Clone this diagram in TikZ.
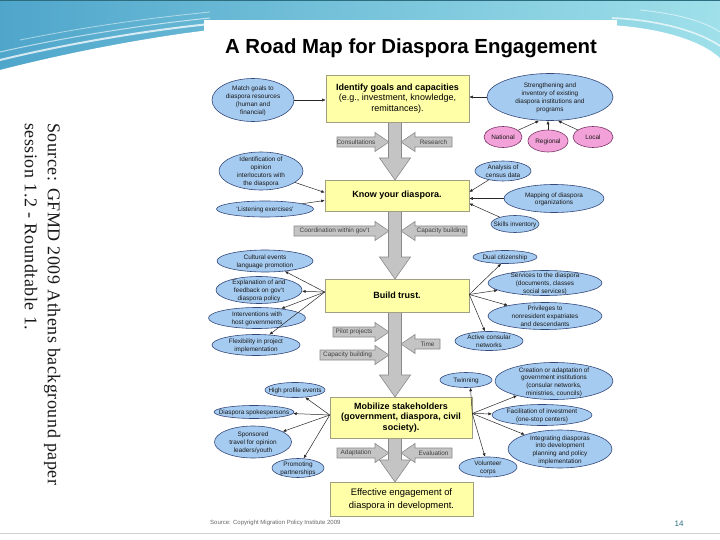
\documentclass[tikz,border=0pt]{standalone}
\usepackage{fontspec}
\setmainfont{Liberation Sans}
\newfontfamily\serifsrc[LetterSpace=3]{Liberation Serif}
\usetikzlibrary{shapes.geometric,arrows.meta,calc}
\definecolor{boxfill}{HTML}{FFFFA8}
\definecolor{boxdraw}{HTML}{A0A080}
\definecolor{ellfill}{HTML}{A6CBF0}
\definecolor{elldraw}{HTML}{34497A}
\definecolor{pinkfill}{HTML}{F2A2D8}
\definecolor{pinkdraw}{HTML}{7A3466}
\definecolor{gafill}{HTML}{C4C4C4}
\definecolor{gadraw}{HTML}{8A8A8A}
\definecolor{bandA}{HTML}{4FA6CB}
\definecolor{bandB}{HTML}{9FE0EA}
\definecolor{pagenum}{HTML}{2C6E80}
\newcommand{\ctext}[1]{\smash{\makebox[0pt]{\raisebox{-2.4pt}{\setbox\strutbox\hbox{\vrule height 5.5pt depth 2.2pt width 0pt}\def\arraystretch{1}\begin{tabular}{@{}c@{}}#1\end{tabular}}}}}
\newcommand{\garrow}[5]{%
  \pgfmathsetmacro{\gd}{(#3>#2) ? 1 : -1}%
  \pgfmathsetmacro{\gh}{#3-\gd*14}%
  \filldraw[fill=gafill, draw=gadraw, line width=0.6pt] (#2,#4-5) -- (\gh,#4-5) -- (\gh,#4-9.5) -- (#3,#4) -- (\gh,#4+9.5) -- (\gh,#4+5) -- (#2,#4+5) -- cycle;
  \node[glabel] (#1) at ({(#2+\gh)/2},#4) {#5};
}
\newcommand{\varrow}[3]{%
  \filldraw[fill=gafill, draw=gadraw, line width=0.6pt] (#1-6.5,#2) -- (#1-6.5,#3-22) -- (#1-15.5,#3-22) -- (#1,#3) -- (#1+15.5,#3-22) -- (#1+6.5,#3-22) -- (#1+6.5,#2) -- cycle;}
\tikzset{
  es/.style 2 args={minimum width=#1pt, minimum height=#2pt},
  ell/.style={ellipse, draw=elldraw, fill=ellfill, line width=0.6pt, inner sep=0pt, font=\fontsize{6.4}{7.7}\selectfont, text=black!90},
  pk/.style={ellipse, draw=pinkdraw, fill=pinkfill, line width=0.6pt, inner sep=0pt, font=\fontsize{6.4}{7.7}\selectfont, text=black!90},
  ybox/.style={rectangle, draw=boxdraw, fill=boxfill, line width=0.6pt, inner sep=0pt, align=center, font=\fontsize{9}{10.8}\selectfont},
  conn/.style={draw=black!85, line width=0.5pt, -{Latex[length=3.5pt,width=3pt]}},
  glabel/.style={font=\fontsize{6.4}{7}\selectfont, text=black!75, inner sep=0pt}
}
\begin{document}
\begin{tikzpicture}[x=1pt,y=-1pt]
\useasboundingbox (0,0) rectangle (720,540);
% background
\fill[white] (0,0) rectangle (720,540);
\shade[left color=bandA, right color=bandB] (0,0) rectangle (720,82);
\fill[white] (0,540) -- (0,70) .. controls (70,52) and (150,37) .. (210,30) -- (610,25) .. controls (660,28) and (700,40) .. (720,58) -- (720,540) -- cycle;
\draw[white, line width=2pt, opacity=.75] (0,60) .. controls (70,43) and (150,30) .. (210,24);
\draw[white, line width=1pt, opacity=.6] (0,52) .. controls (70,36) and (150,24) .. (210,18);
\draw[white, line width=.8pt, opacity=.5] (20,40) .. controls (90,26) and (150,18) .. (210,12);
\draw[white, line width=1.6pt, opacity=.7] (612,18) .. controls (660,20) and (700,32) .. (720,46);
\draw[white, line width=.8pt, opacity=.6] (640,10) .. controls (680,14) and (705,22) .. (720,32);
\draw[pagenum, line width=1.2pt] (0,0.6) -- (720,0.6);
\draw[black!18, line width=0.8pt] (0,533) -- (720,533);
\fill[white] (204,20) rectangle (617,531);
% side source text
\node[rotate=-90, anchor=north west, align=left, inner sep=0pt, font=\serifsrc\fontsize{18}{23}\selectfont, text=black!90] (side) at (60.5,123) {Source: GFMD 2009 Athens background paper\\session 1.2 -  Roundtable 1.};
\node[font=\fontsize{8}{9}\selectfont, text=pagenum] (pg) at (679,524) {14};
% title
\node[font=\fontsize{20.4}{24}\selectfont\bfseries, anchor=base] (title) at (411,54) {A Road Map for Diaspora Engagement};
% central arrows
\varrow{395}{121}{180}
\varrow{395}{210}{279}
\varrow{395}{311}{397}
\varrow{395}{437}{482}
% side gray arrows
\garrow{consult}{337}{389}{142}{Consultations}
\garrow{research}{452}{401}{142}{Research}
\garrow{coord}{294}{389}{231}{Coordination within gov't}
\garrow{capbA}{467}{401}{231}{Capacity building}
\garrow{pilot}{333}{389}{332}{Pilot projects}
\garrow{capbB}{320}{389}{355}{Capacity building}
\garrow{time}{440}{401}{344}{Time}
\garrow{adapt}{337}{389}{453}{Adaptation}
\garrow{eval}{452}{401}{453}{Evaluation}
% boxes
\node[ybox, es={143}{47}] (b1) at (397.5,98.5) {{\bfseries Identify goals and capacities}\\(e.g., investment, knowledge,\\remittances).};
\node[ybox, es={144}{31}, font=\fontsize{9}{10.8}\selectfont\bfseries] (b2) at (397,195.5) {Know your diaspora.};
\node[ybox, es={144}{33}, font=\fontsize{9}{10.8}\selectfont\bfseries] (b3) at (397,295.5) {Build trust.};
\node[ybox, es={142}{41}, font=\fontsize{9}{10.8}\selectfont\bfseries] (b4) at (401,417.5) {Mobilize stakeholders\\(government, diaspora, civil\\society).};
\node[ybox, es={143}{34}, font=\fontsize{9.4}{12.5}\selectfont] (b5) at (401.5,499.5) {Effective engagement of\\diaspora in development.};
% ellipses
\node[ell, es={82}{43}] (e_match) at (253,100) {\ctext{Match goals to\\diaspora resources\\(human and\\financial)}};
\node[ell, es={126}{47}] (e_str) at (550,97) {\ctext{Strengthening and\\inventory of existing\\diaspora institutions and\\programs}};
\node[pk, es={38}{21}] (e_nat) at (503,137) {\ctext{National}};
\node[pk, es={40}{22}] (e_reg) at (548,141) {\ctext{Regional}};
\node[pk, es={40}{21}] (e_loc) at (593,137) {\ctext{Local}};
\node[ell, es={84}{38}] (e_ident) at (261,171) {\ctext{Identification of\\opinion\\interlocutors with\\the diaspora}};
\node[ell, es={97}{16}] (e_listen) at (265,209) {\ctext{`Listening exercises'}};
\node[ell, es={56}{20}] (e_census) at (503,171) {\ctext{Analysis of\\census data}};
\node[ell, es={100}{28}] (e_map) at (554,198.5) {\ctext{Mapping of diaspora\\organizations}};
\node[ell, es={48}{17}] (e_skills) at (515,224) {\ctext{Skills inventory}};
\node[ell, es={96}{22}] (e_cult) at (265,261) {\ctext{Cultural events\\language promotion}};
\node[ell, es={86}{27}] (e_expl) at (259,290) {\ctext{Explanation of and\\feedback on gov't\\diaspora policy}};
\node[ell, es={97}{21}] (e_interv) at (257,318) {\ctext{Interventions with\\host governments}};
\node[ell, es={88}{21}] (e_flex) at (256,345) {\ctext{Flexibility in project\\implementation}};
\node[ell, es={64}{13}] (e_dual) at (505,257) {\ctext{Dual citizenship}};
\node[ell, es={114}{25}] (e_serv) at (545,283) {\ctext{Services to the diaspora\\(documents, classes\\social services)}};
\node[ell, es={114}{27}] (e_priv) at (545,316) {\ctext{Privileges to\\nonresident expatriates\\and descendants}};
\node[ell, es={68}{19}] (e_consul) at (489,341) {\ctext{Active consular\\networks}};
\node[ell, es={60}{15}] (e_high) at (295,390) {\ctext{High profile events}};
\node[ell, es={80}{13}] (e_spokes) at (254,412) {\ctext{Diaspora spokespersons}};
\node[ell, es={77}{32}] (e_spons) at (253,442) {\ctext{Sponsored\\travel for opinion\\leaders/youth}};
\node[ell, es={52}{19}] (e_promo) at (298,468) {\ctext{Promoting\\partnerships}};
\node[ell, es={52}{15}] (e_twin) at (466,380) {\ctext{Twinning}};
\node[ell, es={118}{37}] (e_creat) at (554,381) {\ctext{Creation or adaptation of\\government institutions\\(consular networks,\\ministries, councils)}};
\node[ell, es={100}{21}] (e_facil) at (542,415) {\ctext{Facilitation of investment\\(one-stop centers)}};
\node[ell, es={104}{38}] (e_integ) at (560,449) {\ctext{Integrating diasporas\\into development\\planning and policy\\implementation}};
\node[ell, es={58}{20}] (e_volun) at (488,467) {\ctext{Volunteer\\corps}};
% connectors
\draw[conn] (e_match.east) -- (b1.west |- e_match.east);
\draw[conn] (e_str.west) -- (b1.east |- e_str.west);
\draw[conn] (e_nat) -- ([xshift=-11pt]e_str.south);
\draw[conn] (e_reg.north) -- (e_reg.north |- e_str.south);
\draw[conn] (e_loc) -- ([xshift=8pt]e_str.south);
\draw[conn] (e_ident) -- ([yshift=3pt]b2.west);
\draw[conn] (e_listen) -- ([yshift=-5pt]b2.west);
\draw[conn] (e_census) -- ([yshift=3.5pt]b2.east);
\draw[conn] (e_map.west) -- (b2.east |- e_map.west);
\draw[conn] (e_skills) -- ([yshift=-8pt]b2.east);
\coordinate (b3l) at ([yshift=3.5pt]b3.west);
\coordinate (b3r) at ([yshift=1pt]b3.east);
\draw[conn] (b3l) -- (e_cult);
\draw[conn] (b3l) -- (e_expl);
\draw[conn] (b3l) -- (e_interv);
\draw[conn] (b3l) -- (e_flex);
\draw[conn] (b3r) -- (e_dual.-120);
\draw[conn] (b3r) -- (e_serv);
\draw[conn] (b3r) -- (e_priv);
\draw[conn] (b3r) -- (e_consul);
\coordinate (b4l) at ([yshift=2.5pt]b4.west);
\coordinate (b4r) at ([yshift=4pt]b4.east);
\draw[conn] (b4l) -- (e_high);
\draw[conn] (b4l) -- (e_spokes);
\draw[conn] (b4l) -- (e_spons);
\draw[conn] (b4l) -- (e_promo);
\draw[conn] (b4r) -- (e_twin.-60);
\draw[conn] (b4r) -- (e_creat);
\draw[conn] (b4r) -- (e_facil);
\draw[conn] (b4r) -- (e_integ);
\draw[conn] (b4r) -- (e_volun);
% footer
\node[font=\fontsize{6}{7}\selectfont, text=black!60, anchor=base west, inner sep=0pt] (src) at (210,524) {Source: Copyright Migration Policy Institute 2009};
\end{tikzpicture}
\end{document}
